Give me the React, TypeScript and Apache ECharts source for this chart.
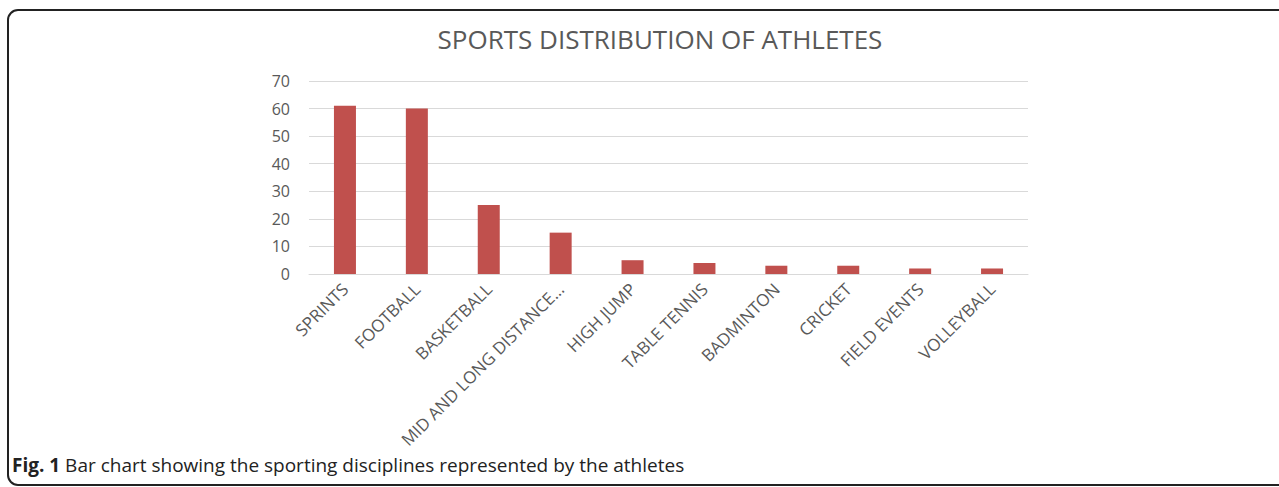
import React, { useEffect, useRef } from "react";
import * as echarts from "echarts";

const categories = [
  "SPRINTS",
  "FOOTBALL",
  "BASKETBALL",
  "MID AND LONG DISTANCE…",
  "HIGH JUMP",
  "TABLE TENNIS",
  "BADMINTON",
  "CRICKET",
  "FIELD EVENTS",
  "VOLLEYBALL",
];
const athletes = [61, 60, 25, 15, 5, 4, 3, 3, 2, 2];
const chartTitle = "SPORTS DISTRIBUTION OF ATHLETES";
const captionBold = "Fig. 1";
const captionText = " Bar chart showing the sporting disciplines represented by the athletes";

export default function App() {
  const ref = useRef<HTMLDivElement>(null);
  useEffect(() => {
    if (!ref.current) return;
    const chart = echarts.init(ref.current, undefined, { renderer: "svg" });
    chart.setOption({
      animation: false,
      backgroundColor: "#ffffff",
      textStyle: { fontFamily: "Open Sans" },
      title: {
        text: chartTitle,
        left: 655,
        textAlign: "center",
        top: 21,
        textStyle: { fontFamily: "Open Sans", fontSize: 26, fontWeight: "normal", color: "#595959" },
      },
      grid: { left: 309, right: 251, top: 81, bottom: 213, containLabel: false },
      xAxis: {
        type: "category",
        data: categories,
        axisLine: { show: true, lineStyle: { color: "#d9d9d9", width: 1 } },
        axisTick: { show: false },
        axisLabel: {
          rotate: 45,
          interval: 0,
          margin: 12,
          fontFamily: "Open Sans",
          fontSize: 17,
          color: "#595959",
        },
      },
      yAxis: {
        type: "value",
        min: 0,
        max: 70,
        interval: 10,
        axisLine: { show: false },
        axisTick: { show: false },
        splitLine: { lineStyle: { color: "#d9d9d9", width: 1 } },
        axisLabel: { margin: 19, fontFamily: "Open Sans", fontSize: 16, color: "#595959" },
      },
      series: [
        {
          type: "bar",
          data: athletes,
          barWidth: 22,
          itemStyle: { color: "#c0504d" },
        },
      ],
      graphic: [
        {
          type: "rect",
          shape: { x: 8, y: 10, width: 1320, height: 475, r: 10 },
          style: { fill: "none", stroke: "#222222", lineWidth: 2 },
          silent: true,
        },
        {
          type: "text",
          left: 12,
          top: 455,
          style: {
            rich: {
              b: { fontFamily: "Open Sans", fontSize: 19, fontWeight: "bold", fill: "#222222" },
              n: { fontFamily: "Open Sans", fontSize: 19, fill: "#222222" },
            },
            text: `{b|${captionBold}}{n|${captionText}}`,
          },
        },
      ],
    });
    return () => chart.dispose();
  }, []);
  return (
    <div
      ref={ref}
      style={{ position: "absolute", left: 0, top: 0, width: 1279, height: 487 }}
    />
  );
}
